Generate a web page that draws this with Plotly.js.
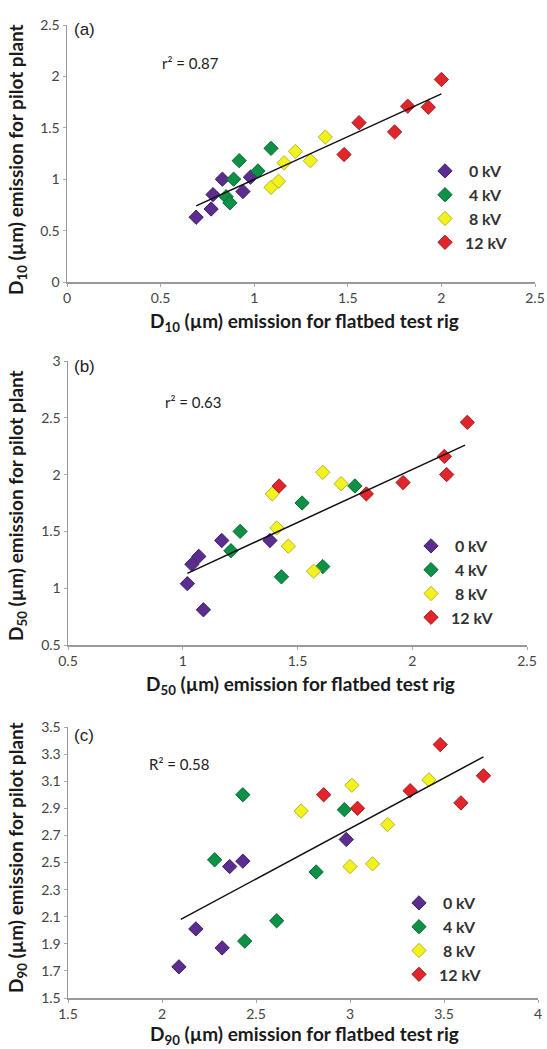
<!DOCTYPE html>
<html>
<head>
<meta charset="utf-8">
<script src="https://cdn.plot.ly/plotly-3.0.1.min.js"></script>
<style>html,body{margin:0;padding:0;background:#fff;}#chart{width:547px;height:1049px;}</style>
</head>
<body>
<div id="chart"></div>
<script>
// ---------- Data ----------
const seriesNames = ['\u00A00 kV', '\u00A04 kV', '\u00A08 kV', '12 kV'];

// Panel (a) D10
const a0x = [0.69, 0.77, 0.78, 0.83, 0.94, 0.98];
const a0y = [0.63, 0.71, 0.85, 1.00, 0.88, 1.02];
const a4x = [0.85, 0.87, 0.89, 0.92, 1.02, 1.09];
const a4y = [0.83, 0.77, 1.00, 1.18, 1.08, 1.30];
const a8x = [1.09, 1.13, 1.16, 1.22, 1.30, 1.38];
const a8y = [0.92, 0.98, 1.16, 1.27, 1.18, 1.41];
const a12x = [1.48, 1.56, 1.75, 1.82, 1.93, 2.00];
const a12y = [1.24, 1.55, 1.46, 1.71, 1.70, 1.97];
const aTrendX = [0.69, 2.00];
const aTrendY = [0.74, 1.83];

// Panel (b) D50
const b0x = [1.02, 1.04, 1.07, 1.09, 1.17, 1.38];
const b0y = [1.04, 1.21, 1.28, 0.81, 1.42, 1.42];
const b4x = [1.21, 1.25, 1.43, 1.52, 1.61, 1.75];
const b4y = [1.33, 1.50, 1.10, 1.75, 1.19, 1.90];
const b8x = [1.39, 1.41, 1.46, 1.57, 1.61, 1.69];
const b8y = [1.83, 1.53, 1.37, 1.15, 2.02, 1.92];
const b12x = [1.42, 1.80, 1.96, 2.14, 2.15, 2.24];
const b12y = [1.90, 1.83, 1.93, 2.16, 2.00, 2.46];
const bTrendX = [1.02, 2.23];
const bTrendY = [1.13, 2.26];

// Panel (c) D90
const c0x = [2.09, 2.18, 2.32, 2.36, 2.43, 2.98];
const c0y = [1.73, 2.01, 1.87, 2.47, 2.51, 2.67];
const c4x = [2.28, 2.43, 2.44, 2.61, 2.82, 2.97];
const c4y = [2.52, 3.00, 1.92, 2.07, 2.43, 2.89];
const c8x = [2.74, 3.01, 3.00, 3.12, 3.20, 3.42];
const c8y = [2.88, 3.07, 2.47, 2.49, 2.78, 3.11];
const c12x = [2.86, 3.04, 3.32, 3.48, 3.59, 3.71];
const c12y = [3.00, 2.90, 3.03, 3.37, 2.94, 3.14];
const cTrendX = [2.10, 3.71];
const cTrendY = [2.08, 3.28];

// Tick values / labels
const aXTicks = [0, 0.5, 1, 1.5, 2, 2.5];
const aXLabels = ['0', '0.5', '1', '1.5', '2', '2.5'];
const aYTicks = [0, 0.5, 1, 1.5, 2, 2.5];
const aYLabels = ['0', '0.5', '1', '1.5', '2', '2.5'];
const bXTicks = [0.5, 1, 1.5, 2, 2.5];
const bXLabels = ['0.5', '1', '1.5', '2', '2.5'];
const bYTicks = [0.5, 1, 1.5, 2, 2.5, 3];
const bYLabels = ['0.5', '1', '1.5', '2', '2.5', '3'];
const cXTicks = [1.5, 2, 2.5, 3, 3.5, 4];
const cXLabels = ['1.5', '2', '2.5', '3', '3.5', '4'];
const cYTicks = [1.5, 1.7, 1.9, 2.1, 2.3, 2.5, 2.7, 2.9, 3.1, 3.3, 3.5];
const cYLabels = ['1.5', '1.7', '1.9', '2.1', '2.3', '2.5', '2.7', '2.9', '3.1', '3.3', '3.5'];

// ---------- Styles ----------
const fillColors = ['#5b2d8e', '#0e9146', '#f2f21e', '#e1262b'];
const edgeColors = ['#3f1f66', '#0a6b33', '#b5b52a', '#a81d20'];
const W = 547, H = 1049;
const px = v => v / W;
const py = v => 1 - v / H;

const traces = [];
function addPanel(sets, trendX, trendY, xa, ya, legendId) {
  sets.forEach((s, i) => {
    traces.push({
      type: 'scatter', mode: 'markers', x: s[0], y: s[1],
      xaxis: xa, yaxis: ya, name: seriesNames[i], legend: legendId,
      marker: { symbol: 'diamond', size: 11, color: fillColors[i], line: { color: edgeColors[i], width: 1 } },
      hoverinfo: 'x+y'
    });
  });
  traces.push({
    type: 'scatter', mode: 'lines', x: trendX, y: trendY, xaxis: xa, yaxis: ya,
    line: { color: '#111', width: 1.5 }, showlegend: false, hoverinfo: 'skip'
  });
}
addPanel([[a0x, a0y], [a4x, a4y], [a8x, a8y], [a12x, a12y]], aTrendX, aTrendY, 'x', 'y', 'legend');
addPanel([[b0x, b0y], [b4x, b4y], [b8x, b8y], [b12x, b12y]], bTrendX, bTrendY, 'x2', 'y2', 'legend2');
addPanel([[c0x, c0y], [c4x, c4y], [c8x, c8y], [c12x, c12y]], cTrendX, cTrendY, 'x3', 'y3', 'legend3');

const tickFont = { family: 'Lato, sans-serif', size: 14, color: '#444' };
function axis(range, tv, tt, domain, anchor) {
  return {
    range: range, tickvals: tv, ticktext: tt, domain: domain, anchor: anchor,
    showline: true, linecolor: '#999', linewidth: 1.5, mirror: false,
    showgrid: false, zeroline: false, ticks: 'outside', ticklen: 3, tickcolor: '#aaa',
    tickfont: tickFont, fixedrange: true
  };
}

const legendBase = {
  font: { family: 'Lato, sans-serif', size: 16, color: '#333', weight: 'bold' },
  bgcolor: 'rgba(0,0,0,0)', borderwidth: 0, xanchor: 'left', yanchor: 'top',
  traceorder: 'normal', itemclick: false, itemdoubleclick: false
};

const titleFont = { family: 'Lato, sans-serif', size: 19, color: '#1a1a1a', weight: 'bold' };
const noteFont = { family: 'Lato, sans-serif', size: 15, color: '#222' };
const tagFont = { family: 'Liberation Sans, Arial, sans-serif', size: 17, color: '#222' };

function ann(text, x, y, font, extra) {
  return Object.assign({ text: text, x: px(x), y: py(y), xref: 'paper', yref: 'paper',
    showarrow: false, font: font, xanchor: 'center', yanchor: 'middle' }, extra || {});
}

const annotations = [
  ann('(a)', 72, 30, tagFont, { xanchor: 'left' }),
  ann('(b)', 72, 366, tagFont, { xanchor: 'left' }),
  ann('(c)', 72, 735, tagFont, { xanchor: 'left' }),
  ann('r² = 0.87', 160, 63, noteFont, { xanchor: 'left' }),
  ann('r² = 0.63', 163, 402, noteFont, { xanchor: 'left' }),
  ann('R² = 0.58', 147, 764, noteFont, { xanchor: 'left' }),
  ann('D<sub>10</sub> (µm) emission for flatbed test rig', 305, 322, titleFont),
  ann('D<sub>50</sub> (µm) emission for flatbed test rig', 300, 685, titleFont),
  ann('D<sub>90</sub> (µm) emission for flatbed test rig', 305, 1035, titleFont),
  ann('D<sub>10</sub> (µm) emission for pilot plant', 17, 160, titleFont, { textangle: -90 }),
  ann('D<sub>50</sub> (µm) emission for pilot plant', 17, 506, titleFont, { textangle: -90 }),
  ann('D<sub>90</sub> (µm) emission for pilot plant', 17, 858, titleFont, { textangle: -90 })
];

const layout = {
  width: W, height: H,
  margin: { l: 0, r: 0, t: 0, b: 0, pad: 0 },
  paper_bgcolor: '#fff', plot_bgcolor: '#fff',
  showlegend: true,
  xaxis: axis([0, 2.5], aXTicks, aXLabels, [px(67), px(535)], 'y'),
  yaxis: axis([0, 2.5], aYTicks, aYLabels, [py(282), py(25)], 'x'),
  xaxis2: axis([0.5, 2.5], bXTicks, bXLabels, [px(68), px(527)], 'y2'),
  yaxis2: axis([0.5, 3], bYTicks, bYLabels, [py(645), py(361)], 'x2'),
  xaxis3: axis([1.5, 4], cXTicks, cXLabels, [px(68), px(538)], 'y3'),
  yaxis3: axis([1.5, 3.5], cYTicks, cYLabels, [py(998), py(727)], 'x3'),
  legend: Object.assign({}, legendBase, { x: px(425), y: py(154) }),
  legend2: Object.assign({}, legendBase, { x: px(411), y: py(529) }),
  legend3: Object.assign({}, legendBase, { x: px(399), y: py(886) }),
  annotations: annotations
};

Plotly.newPlot('chart', traces, layout, { displayModeBar: false, staticPlot: true });
</script>
</body>
</html>
